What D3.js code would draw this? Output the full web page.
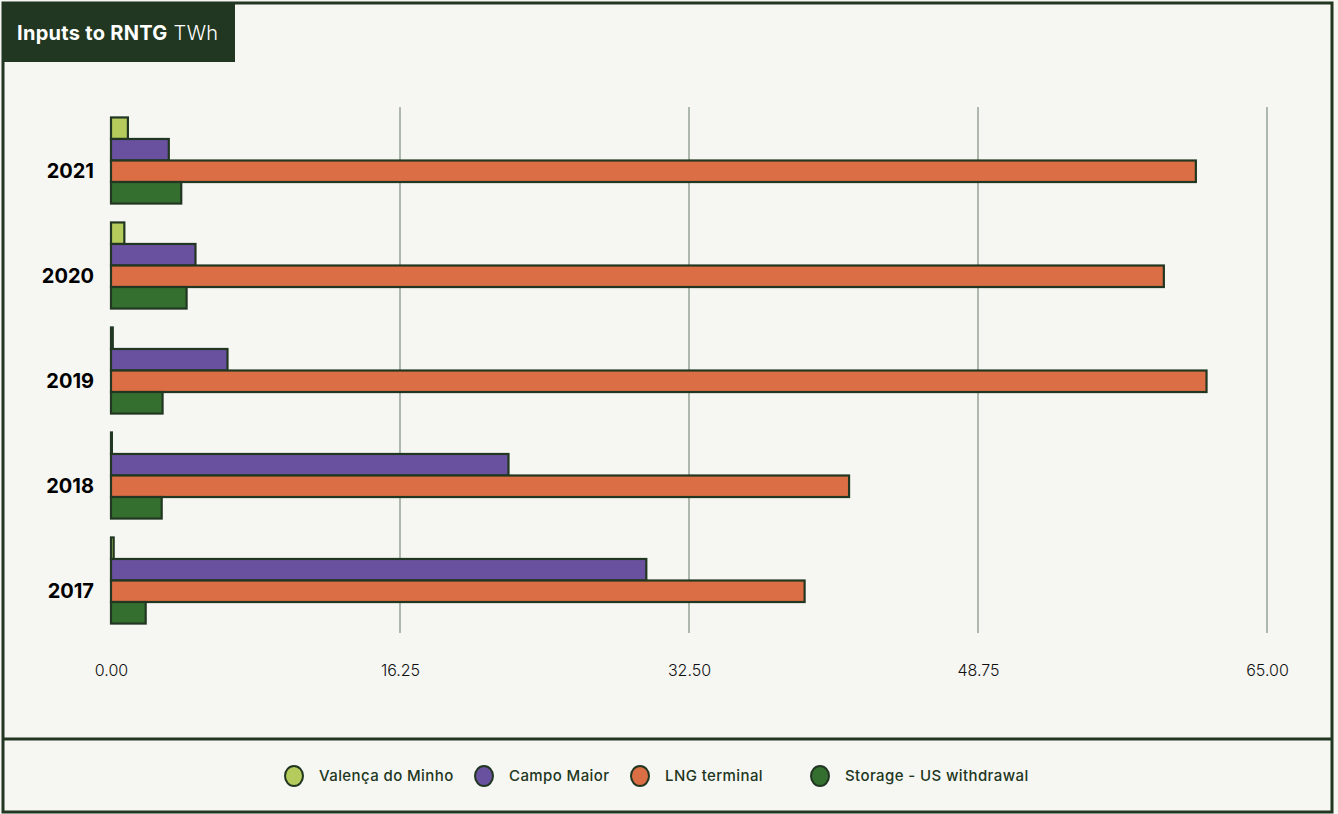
<!DOCTYPE html>
<html>
<head>
<meta charset="utf-8">
<script src="https://cdn.jsdelivr.net/npm/d3@7"></script>
<style>
  html, body { margin: 0; padding: 0; background: #f6f6f3; }
  svg { display: block; font-family: Inter, "Noto Sans", sans-serif; }
</style>
</head>
<body>
<div id="wrapper"></div>
<script>
const years = ["2021", "2020", "2019", "2018", "2017"];
const seriesNames = ["Valença do Minho", "Campo Maior", "LNG terminal", "Storage - US withdrawal"];
const seriesColors = ["#b5cb5b", "#6a51a0", "#dc6e45", "#356f2f"];
const valenca = [0.95, 0.75, 0.1, 0.05, 0.15];
const campoMaior = [3.25, 4.75, 6.55, 22.35, 30.1];
const lngTerminal = [61.0, 59.2, 61.6, 41.5, 39.0];
const storage = [3.95, 4.25, 2.9, 2.85, 1.95];
const xTicks = [0, 16.25, 32.5, 48.75, 65];

const dark = "#213721";

const dataset = years.map((year, i) => ({
  year,
  values: [valenca[i], campoMaior[i], lngTerminal[i], storage[i]],
}));

const dimensions = { width: 1338, height: 814 };

const wrapper = d3
  .select("#wrapper")
  .append("svg")
  .attr("width", dimensions.width)
  .attr("height", dimensions.height);

// background + frame
wrapper
  .append("rect")
  .attr("x", 3)
  .attr("y", 3)
  .attr("width", 1329)
  .attr("height", 809)
  .attr("fill", "#f6f6f3")
  .attr("stroke", dark)
  .attr("stroke-width", 3);

wrapper
  .append("line")
  .attr("x1", 3)
  .attr("x2", 1332)
  .attr("y1", 739)
  .attr("y2", 739)
  .attr("stroke", dark)
  .attr("stroke-width", 3);

// title box
wrapper
  .append("rect")
  .attr("x", 2)
  .attr("y", 2)
  .attr("width", 233)
  .attr("height", 60)
  .attr("fill", dark);

const title = wrapper
  .append("text")
  .attr("x", 17)
  .attr("y", 40)
  .attr("fill", "#ffffff")
  .style("font-size", "20px")
  .style("letter-spacing", "0.3px");
title.append("tspan").style("font-weight", 700).text("Inputs to RNTG");
title.append("tspan").style("font-weight", 300).text(" TWh");

// scales
const xScale = d3.scaleLinear().domain([0, 65]).range([111, 1267]);

const yScale = d3
  .scaleBand()
  .domain(years)
  .range([108, 633])
  .paddingInner(0.18)
  .paddingOuter(0.09);

const innerScale = d3
  .scaleBand()
  .domain(d3.range(seriesNames.length))
  .range([0, yScale.bandwidth()]);

// gridlines
wrapper
  .append("g")
  .selectAll("line")
  .data(xTicks.slice(1))
  .join("line")
  .attr("x1", (d) => xScale(d))
  .attr("x2", (d) => xScale(d))
  .attr("y1", 107)
  .attr("y2", 633)
  .attr("stroke", "#7f8f7d")
  .attr("stroke-width", 1.2);

// x axis labels
const xAxisGenerator = d3
  .axisBottom(xScale)
  .tickValues(xTicks)
  .tickFormat(d3.format(".2f"))
  .tickSize(0)
  .tickPadding(0);

const xAxis = wrapper
  .append("g")
  .attr("transform", "translate(0, 665)")
  .call(xAxisGenerator);
xAxis.select(".domain").remove();
xAxis
  .selectAll("text")
  .attr("fill", "#111111")
  .style("font-size", "16px")
  .style("font-weight", 300)
  .style("font-family", "Inter, sans-serif");

// bars
const groups = wrapper
  .append("g")
  .selectAll("g")
  .data(dataset)
  .join("g")
  .attr("transform", (d) => `translate(0, ${yScale(d.year)})`);

groups
  .selectAll("rect")
  .data((d) => d.values)
  .join("rect")
  .attr("x", xScale(0))
  .attr("y", (d, i) => innerScale(i))
  .attr("width", (d) => Math.max(xScale(d) - xScale(0), 0.5))
  .attr("height", innerScale.bandwidth())
  .attr("fill", (d, i) => seriesColors[i])
  .attr("stroke", dark)
  .attr("stroke-width", 2.2);

// year labels
wrapper
  .append("g")
  .selectAll("text")
  .data(years)
  .join("text")
  .attr("x", 94)
  .attr("y", (d) => yScale(d) + yScale.bandwidth() / 2 + 17)
  .attr("text-anchor", "end")
  .attr("fill", "#000")
  .style("font-size", "20px")
  .style("font-weight", 700)
  .text((d) => d);

// legend
const legendX = [294, 484, 640, 820];
const legend = wrapper
  .append("g")
  .selectAll("g")
  .data(seriesNames)
  .join("g")
  .attr("transform", (d, i) => `translate(${legendX[i]}, 776)`);

legend
  .append("ellipse")
  .attr("rx", 9)
  .attr("ry", 10)
  .attr("fill", (d, i) => seriesColors[i])
  .attr("stroke", dark)
  .attr("stroke-width", 2);

legend
  .append("text")
  .attr("x", 25)
  .attr("y", 5)
  .attr("fill", dark)
  .style("font-size", "15px")
  .style("font-weight", 500)
  .style("letter-spacing", "0.4px")
  .text((d) => d);
</script>
</body>
</html>
